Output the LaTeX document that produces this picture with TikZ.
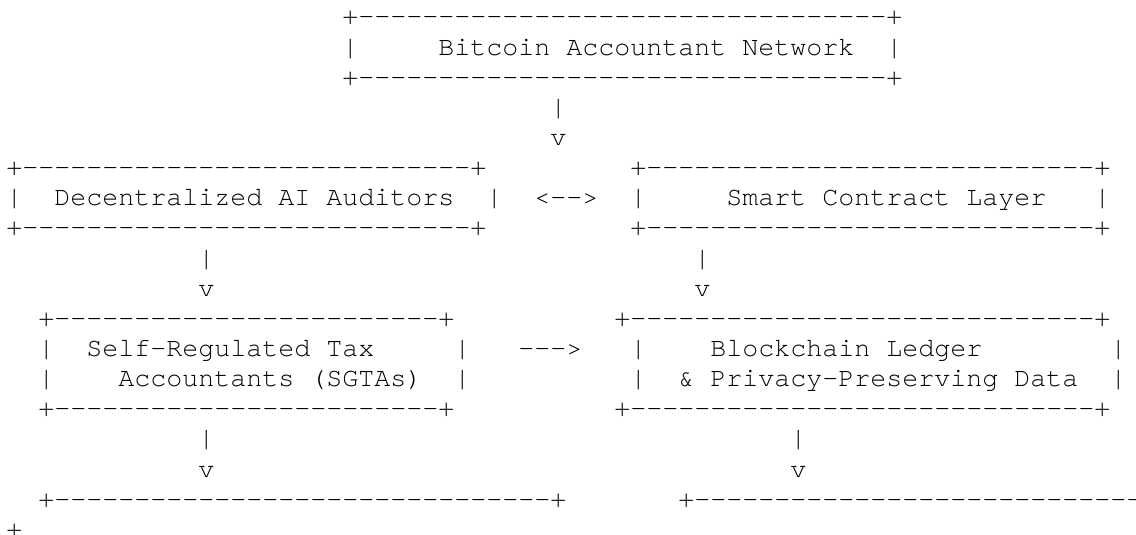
\documentclass[tikz,border=0pt]{standalone}
\usepackage{fontspec}
\setmonofont{texgyrecursor-regular.otf}
\usepackage{tikz}
\newcommand{\dashrun}[1]{\foreach \n in {1,...,#1}{-}}

\begin{document}
\begin{tikzpicture}
	\def\cw{12pt};
	\def\lh{22.61pt};
	
	\useasboundingbox (0,0) rectangle (852pt,-401.25pt);
	
	\begin{scope}[shift = {(4.5pt,3.93pt)}, x = \cw, y = -\lh,
		every node/.style = {font = \ttfamily\fontsize{20}{22.61}\selectfont, anchor = base west, inner sep = 0pt}]
		% network
		\node (net-top) at (21,1) {+\dashrun{33}+};
		\node (net-l) at (21,2) {|};
		\node (net) at (27,2) {Bitcoin Accountant Network};
		\node (net-r) at (55,2) {|};
		\node (net-bot) at (21,3) {+\dashrun{33}+};
		\node (net-stem) at (34,4) {|};
		\node (net-tip) at (34,5) {v};
		
		% auditors and contracts
		\node (ai-top) at (0,6) {+\dashrun{28}+};
		\node (sc-top) at (39,6) {+\dashrun{28}+};
		\node (ai-l) at (0,7) {|};
		\node (ai) at (3,7) {Decentralized AI Auditors};
		\node (ai-r) at (30,7) {|};
		\node (ai-sc) at (33,7) {<\dashrun{2}>};
		\node (sc-l) at (39,7) {|};
		\node (sc) at (45,7) {Smart Contract Layer};
		\node (sc-r) at (68,7) {|};
		\node (ai-bot) at (0,8) {+\dashrun{28}+};
		\node (sc-bot) at (39,8) {+\dashrun{28}+};
		\node (ai-stem) at (12,9) {|};
		\node (sc-stem) at (43,9) {|};
		\node (ai-tip) at (12,10) {v};
		\node (sc-tip) at (43,10) {v};
		
		% tax accountants and ledger
		\node (sgta-top) at (2,11) {+\dashrun{24}+};
		\node (led-top) at (38,11) {+\dashrun{29}+};
		\node (sgta-l1) at (2,12) {|};
		\node (sgta-a) at (5,12) {Self-Regulated Tax};
		\node (sgta-r1) at (28,12) {|};
		\node (sgta-led) at (32,12) {\dashrun{3}>};
		\node (led-l1) at (39,12) {|};
		\node (led-a) at (44,12) {Blockchain Ledger};
		\node (led-r1) at (69,12) {|};
		\node (sgta-l2) at (2,13) {|};
		\node (sgta-b) at (7,13) {Accountants (SGTAs)};
		\node (sgta-r2) at (28,13) {|};
		\node (led-l2) at (39,13) {|};
		\node (led-b) at (42,13) {\& Privacy-Preserving Data};
		\node (led-r2) at (69,13) {|};
		\node (sgta-bot) at (2,14) {+\dashrun{24}+};
		\node (led-bot) at (38,14) {+\dashrun{29}+};
		\node (sgta-stem) at (12,15) {|};
		\node (led-stem) at (49,15) {|};
		\node (sgta-tip) at (12,16) {v};
		\node (led-tip) at (49,16) {v};
		
		% next row, cut at the right edge
		\node (low-left) at (2,17) {+\dashrun{31}+};
		\node (low-right) at (42,17) {+\dashrun{28}};
		\node (wrap) at (0,18) {+};
	\end{scope}
\end{tikzpicture}
\end{document}
